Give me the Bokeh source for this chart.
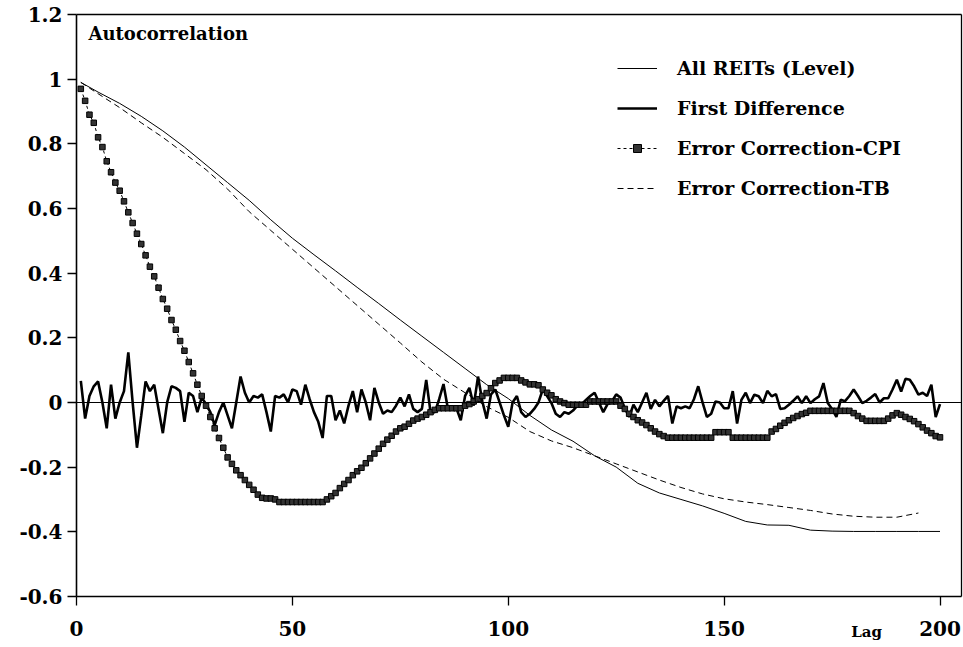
from bokeh.plotting import figure
from bokeh.models import Range1d, FixedTicker, Label, Legend, LegendItem, LinearAxis
from bokeh.embed import file_html
from bokeh.resources import INLINE

# ---------------- data ----------------
lags = list(range(1, 201))

first_diff = [
    0.067, -0.05, 0.02, 0.05, 0.065, 0.0, -0.08, 0.055, -0.05, 0.0,
    0.035, 0.155, 0.0, -0.14, -0.04, 0.065, 0.035, 0.055, -0.02, -0.095,
    0.0, 0.05, 0.045, 0.035, -0.06, 0.03, 0.02, -0.03, 0.015, -0.005,
    -0.03, -0.07, -0.03, 0.0, -0.04, -0.08, 0.0, 0.08, 0.03, 0.0,
    0.02, 0.015, 0.025, -0.03, -0.09, 0.02, 0.015, 0.025, 0.0, 0.04,
    0.035, -0.007, 0.055, 0.01, -0.03, -0.06, -0.11, 0.02, 0.02, -0.055,
    -0.025, -0.065, -0.01, 0.035, -0.03, 0.04, 0.0, -0.055, 0.045, 0.0,
    -0.035, -0.025, -0.03, -0.01, 0.015, -0.012, 0.025, -0.02, -0.03, -0.02,
    0.07, -0.03, -0.03, 0.01, 0.057, -0.018, -0.02, -0.018, -0.055, 0.02,
    0.045, -0.01, 0.08, 0.003, -0.05, 0.025, 0.04, 0.0, -0.04, -0.075,
    0.0, 0.02, -0.03, -0.045, -0.035, -0.02, 0.0, 0.04, 0.02, -0.002,
    -0.035, -0.045, -0.03, -0.035, -0.025, -0.01, -0.005, 0.008, 0.02, 0.03,
    0.0, -0.03, -0.005, 0.003, 0.025, 0.015, -0.018, -0.045, -0.007, -0.03,
    0.0, 0.03, -0.02, 0.008, -0.012, 0.005, 0.02, -0.065, -0.012, -0.018,
    -0.012, -0.018, 0.01, 0.05, 0.0, -0.045, -0.035, 0.003, 0.0, -0.018,
    -0.018, 0.035, -0.065, 0.008, 0.03, -0.002, 0.024, 0.019, -0.002, 0.036,
    0.019, 0.026, -0.02, -0.018, -0.007, 0.005, 0.019, -0.002, 0.019, -0.002,
    0.01, 0.019, 0.06, -0.002, -0.02, -0.045, 0.008, 0.004, 0.02, 0.04,
    0.02, -0.002, 0.005, 0.015, 0.026, 0.0, 0.013, 0.013, 0.04, 0.07,
    0.034, 0.073, 0.07, 0.05, 0.024, 0.03, 0.02, 0.055, -0.045, -0.005,
]

ec_cpi = [
    0.97, 0.933, 0.89, 0.865, 0.82, 0.79, 0.746, 0.712, 0.68, 0.655,
    0.622, 0.588, 0.555, 0.522, 0.49, 0.455, 0.42, 0.39, 0.355, 0.32,
    0.29, 0.255, 0.225, 0.19, 0.16, 0.125, 0.09, 0.055, 0.02, -0.01,
    -0.045, -0.08, -0.11, -0.14, -0.17, -0.19, -0.21, -0.225, -0.24, -0.255,
    -0.27, -0.285, -0.295, -0.297, -0.297, -0.30, -0.308, -0.308, -0.308, -0.308,
    -0.308, -0.308, -0.308, -0.308, -0.308, -0.308, -0.308, -0.30, -0.29, -0.28,
    -0.265, -0.252, -0.24, -0.225, -0.213, -0.202, -0.188, -0.173, -0.158, -0.143,
    -0.128, -0.115, -0.103, -0.09, -0.08, -0.075, -0.066, -0.056, -0.05, -0.045,
    -0.038, -0.03, -0.023, -0.018, -0.018, -0.018, -0.018, -0.018, -0.018, -0.01,
    -0.005, 0.003, 0.01, 0.02, 0.029, 0.044, 0.06, 0.068, 0.076, 0.076,
    0.076, 0.076, 0.068, 0.062, 0.056, 0.056, 0.053, 0.04, 0.03, 0.022,
    0.01, 0.003, -0.002, -0.007, -0.007, -0.007, -0.007, -0.007, 0.003, 0.003,
    0.003, 0.003, 0.003, 0.003, 0.003, -0.01, -0.02, -0.035, -0.045, -0.055,
    -0.062, -0.07, -0.08, -0.09, -0.098, -0.104, -0.109, -0.109, -0.109, -0.109,
    -0.109, -0.109, -0.109, -0.109, -0.109, -0.109, -0.109, -0.092, -0.092, -0.092,
    -0.092, -0.109, -0.109, -0.109, -0.109, -0.109, -0.109, -0.109, -0.109, -0.109,
    -0.09, -0.082, -0.072, -0.063, -0.055, -0.048, -0.042, -0.036, -0.032, -0.026,
    -0.026, -0.026, -0.026, -0.026, -0.026, -0.026, -0.026, -0.026, -0.026, -0.033,
    -0.042, -0.05, -0.057, -0.057, -0.057, -0.057, -0.057, -0.05, -0.04, -0.033,
    -0.038, -0.045, -0.051, -0.058, -0.067, -0.077, -0.087, -0.095, -0.104, -0.108,
]

level_lags = [1, 5, 10, 15, 20, 25, 30, 35, 40, 45, 50, 55, 60, 65, 70, 75, 80,
              85, 90, 95, 100, 105, 110, 115, 120, 125, 130, 135, 140, 145, 150,
              155, 160, 165, 170, 175, 180, 185, 190, 195, 200]
level = [0.99, 0.96, 0.925, 0.885, 0.84, 0.79, 0.735, 0.68, 0.625, 0.565, 0.508,
         0.457, 0.407, 0.356, 0.306, 0.255, 0.205, 0.155, 0.105, 0.055, 0.012,
         -0.04, -0.085, -0.12, -0.165, -0.2, -0.25, -0.28, -0.30, -0.32, -0.343,
         -0.368, -0.379, -0.38, -0.395, -0.398, -0.399, -0.399, -0.399, -0.399, -0.399]

tb_lags = [1, 5, 10, 15, 20, 25, 30, 35, 40, 45, 50, 55, 60, 65, 70, 75, 80,
           85, 90, 95, 100, 105, 110, 115, 120, 125, 130, 135, 140, 145, 150,
           155, 160, 165, 170, 175, 180, 185, 190, 195]
ec_tb = [0.99, 0.955, 0.912, 0.865, 0.82, 0.77, 0.72, 0.66, 0.59, 0.532, 0.474,
         0.416, 0.358, 0.30, 0.242, 0.184, 0.125, 0.072, 0.03, -0.013, -0.046,
         -0.09, -0.119, -0.14, -0.165, -0.19, -0.215, -0.24, -0.263, -0.283, -0.298,
         -0.308, -0.316, -0.325, -0.334, -0.345, -0.352, -0.355, -0.355, -0.342]

y_ticks = [-0.6, -0.4, -0.2, 0, 0.2, 0.4, 0.6, 0.8, 1, 1.2]
y_tick_labels = ["-0.6", "-0.4", "-0.2", "0", "0.2", "0.4", "0.6", "0.8", "1", "1.2"]
x_ticks = [0, 50, 100, 150, 200]
x_tick_labels = ["0", "50", "100", "150", "200"]

series_names = ["All REITs (Level)", "First Difference",
                "Error Correction-CPI", "Error Correction-TB"]

FONT = "DejaVu Serif"
X_MIN, X_MAX = 0, 205
Y_MIN, Y_MAX = -0.6, 1.2

# ---------------- figure ----------------
# The frame covers the whole canvas; the axes and the box are drawn at fixed
# data locations inside it so that their labels are never clipped.
p = figure(width=963, height=647,
           x_range=Range1d(-17.603, 205.44), y_range=Range1d(-0.758, 1.2433),
           output_backend="svg", toolbar_location=None,
           min_border_left=0, min_border_right=0,
           min_border_top=0, min_border_bottom=0)

p.grid.visible = False
p.outline_line_color = None
p.background_fill_color = "white"
p.border_fill_color = "white"

p.yaxis.ticker = FixedTicker(ticks=y_ticks)
p.yaxis.major_label_overrides = dict(zip(y_ticks, y_tick_labels))
p.yaxis.bounds = (Y_MIN, Y_MAX)
p.yaxis.fixed_location = X_MIN
p.xaxis.ticker = FixedTicker(ticks=x_ticks)
p.xaxis.major_label_overrides = dict(zip(x_ticks, x_tick_labels))
p.xaxis.bounds = (X_MIN, X_MAX)
p.xaxis.fixed_location = Y_MIN

for ax in (p.xaxis, p.yaxis):
    ax.minor_tick_line_color = None
    ax.major_tick_in = 0
    ax.major_tick_out = 9
    ax.major_tick_line_color = "black"
    ax.major_tick_line_width = 1.3
    ax.axis_line_color = "black"
    ax.axis_line_width = 1.6
    ax.major_label_text_font = FONT
    ax.major_label_text_font_style = "bold"
    ax.major_label_text_color = "black"

p.yaxis.major_label_text_font_size = "20px"
p.yaxis.major_label_standoff = 5
p.xaxis.major_label_text_font_size = "20px"
p.xaxis.major_label_standoff = 16


def plain_axis(loc, bounds, width):
    return LinearAxis(ticker=FixedTicker(ticks=[]), bounds=bounds,
                      fixed_location=loc,
                      major_tick_in=0, major_tick_out=0,
                      minor_tick_in=0, minor_tick_out=0,
                      axis_line_color="black", axis_line_width=width)


p.add_layout(plain_axis(X_MAX, (Y_MIN, Y_MAX), 1.3), "right")   # right border
p.add_layout(plain_axis(Y_MAX, (X_MIN, X_MAX), 1.5), "above")   # top border
p.add_layout(plain_axis(0, (X_MIN, X_MAX), 1.0), "below")       # zero line

r_level = p.line(level_lags, level, line_color="black", line_width=1)
r_diff = p.line(lags, first_diff, line_color="black", line_width=2.6)
r_cpi_line = p.line(lags, ec_cpi, line_color="black", line_width=1, line_dash="3 3")
r_cpi_pts = p.scatter(lags, ec_cpi, marker="square", size=5.5,
                      fill_color="#333333", line_color="black", line_width=1)
r_tb = p.line(tb_lags, ec_tb, line_color="black", line_width=1, line_dash="6 4")

legend = Legend(items=[
    LegendItem(label=series_names[0], renderers=[r_level]),
    LegendItem(label=series_names[1], renderers=[r_diff]),
    LegendItem(label=series_names[2], renderers=[r_cpi_line, r_cpi_pts]),
    LegendItem(label=series_names[3], renderers=[r_tb]),
], location=(617, 448), padding=0, margin=0, spacing=18,
    glyph_width=40, glyph_height=20, label_height=20, label_standoff=20,
    label_text_font=FONT, label_text_font_size="19px",
    label_text_font_style="bold", label_text_color="black",
    border_line_alpha=0, background_fill_alpha=0)
p.add_layout(legend)

p.add_layout(Label(x=2.78, y=1.141, text="Autocorrelation", text_font=FONT,
                   text_font_size="18px", text_font_style="bold",
                   text_align="left", text_baseline="middle", text_color="black"))
p.add_layout(Label(x=183, y=-0.711, text="Lag", text_font=FONT,
                   text_font_size="15px", text_font_style="bold",
                   text_align="center", text_baseline="middle", text_color="black"))

open("out.html", "w").write(file_html(p, INLINE))
